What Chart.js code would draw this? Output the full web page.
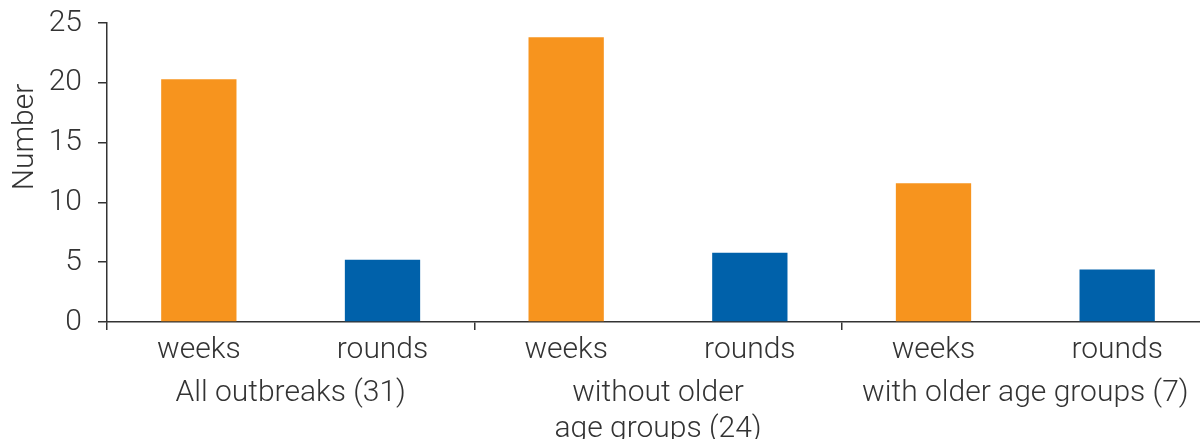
<!DOCTYPE html>
<html lang="en">

<head>
    <meta charset="UTF-8">
    <title>Number of weeks and rounds</title>
    <script src="https://cdn.jsdelivr.net/npm/chart.js"></script>
    <style>
        html, body { margin: 0; padding: 0; background: #fff; overflow: hidden; }
        /* the plot runs slightly past the right edge in the original */
        #wrap { width: 1209px; height: 439px; }
    </style>
</head>

<body>
    <div id="wrap"><canvas id="chart"></canvas></div>

    <script>
        // data
        const groupLabels = ['All outbreaks (31)', ['without older', 'age groups (24)'], 'with older age groups (7)']
        const subLabels = ['weeks', 'rounds']
        const weeksValues = [20.3, 23.8, 11.6]
        const roundsValues = [5.2, 5.8, 4.4]
        const yTicks = [0, 5, 10, 15, 20, 25]

        const orange = '#F7941E'
        const blue = '#0061AA'
        const ink = '#333333'
        const font = { family: 'Roboto', size: 30, weight: '300' }

        // one bar per (group, sub) pair
        const labels = []
        const values = []
        const colors = []
        groupLabels.forEach(function (g, i) {
            labels.push(subLabels[0]); values.push(weeksValues[i]); colors.push(orange)
            labels.push(subLabels[1]); values.push(roundsValues[i]); colors.push(blue)
        })

        const yTitle = {
            id: 'yTitle',
            afterDraw(chart) {
                const ctx = chart.ctx
                ctx.save()
                ctx.translate(25, 137)
                ctx.rotate(-Math.PI / 2)
                ctx.font = '300 30px Roboto'
                ctx.fillStyle = ink
                ctx.textAlign = 'center'
                ctx.textBaseline = 'middle'
                ctx.fillText('Number', 0, 0)
                ctx.restore()
            }
        }

        new Chart(document.getElementById('chart'), {
            type: 'bar',
            data: {
                labels: labels,
                datasets: [{
                    data: values,
                    backgroundColor: colors,
                    barPercentage: 0.41,
                    categoryPercentage: 1,
                    xAxisID: 'x'
                }]
            },
            options: {
                responsive: true,
                maintainAspectRatio: false,
                animation: false,
                layout: { padding: { top: 23, right: 0, bottom: 0, left: 0 } },
                plugins: {
                    legend: { display: false },
                    tooltip: { enabled: false }
                },
                scales: {
                    x: {
                        type: 'category',
                        position: 'bottom',
                        grid: {
                            drawOnChartArea: false,
                            offset: true,
                            tickLength: 8,
                            color: function (c) { return c.index % 2 === 0 ? ink : 'rgba(0,0,0,0)' },
                            lineWidth: 1.5
                        },
                        border: { display: true, color: ink, width: 1.5 },
                        ticks: { font: font, color: ink, padding: 2, maxRotation: 0, autoSkip: false },
                        afterFit(s) { s.height = 46; s.paddingLeft = 0; s.paddingRight = 0 }
                    },
                    x2: {
                        type: 'category',
                        labels: groupLabels,
                        position: 'bottom',
                        grid: { display: false },
                        border: { display: false },
                        ticks: { font: font, color: ink, padding: -1, maxRotation: 0, autoSkip: false, lineHeight: 1.08 },
                        afterFit(s) { s.height = 71; s.paddingLeft = 0; s.paddingRight = 0 }
                    },
                    y: {
                        min: 0,
                        max: 25,
                        afterBuildTicks(s) { s.ticks = yTicks.map(function (v) { return { value: v } }) },
                        grid: { drawOnChartArea: false, tickLength: 9, color: ink, lineWidth: 1.5 },
                        border: { display: true, color: ink, width: 1.5 },
                        ticks: { font: font, color: ink, padding: 16 },
                        afterFit(s) { s.width = 107; s.paddingTop = 0; s.paddingBottom = 0 }
                    }
                }
            },
            plugins: [yTitle]
        })
    </script>
</body>

</html>
